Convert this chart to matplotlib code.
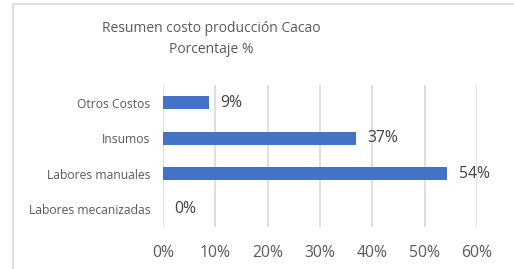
import matplotlib.pyplot as plt
import matplotlib.patches as mpatches
from matplotlib.ticker import PercentFormatter

# data, bottom to top
categorias = ['Labores mecanizadas', 'Labores manuales', 'Insumos', 'Otros Costos']
porcentajes = [0.0, 0.543, 0.369, 0.088]
ticks_x = [0, 0.1, 0.2, 0.3, 0.4, 0.5, 0.6]

W, H = 514, 269
fig = plt.figure(figsize=(W / 100, H / 100), dpi=100, facecolor='white')
plt.rcParams['font.family'] = ['Open Sans', 'DejaVu Sans']

# outer chart frame (runs off right/bottom edge)
fig.patches.append(mpatches.Rectangle((13 / W, -0.1), 1.2, (H - 4) / H + 0.1,
                                      transform=fig.transFigure, fill=False,
                                      edgecolor='#d9d9d9', linewidth=1.2))

ax = fig.add_axes([163 / W, (H - 227) / H, (477 - 163) / W, (227 - 85) / H])
ax.barh(categorias, porcentajes, height=0.36, color='#4472C4', zorder=3)

ax.set_xlim(0, 0.6)
ax.set_ylim(-0.5, 3.5)
ax.set_xticks(ticks_x)
ax.xaxis.set_major_formatter(PercentFormatter(1.0, decimals=0))
ax.grid(axis='x', color='#d9d9d9', linewidth=1.2, zorder=0)
for s in ax.spines.values():
    s.set_visible(False)
ax.tick_params(axis='both', length=0)
ax.tick_params(axis='x', labelsize=11.3, colors='#595959', pad=13)
ax.tick_params(axis='y', labelsize=8.7, colors='#595959', pad=9)

for i, v in enumerate(porcentajes):
    ax.text(v + 0.022, i, f'{v:.0%}', va='center', ha='left',
            fontsize=11.3, color='#404040')

fig.text(211 / W, 1 - 29 / H, 'Resumen costo producción Cacao', ha='center',
         va='center', fontsize=10, color='#595959')
fig.text(211 / W, 1 - 50 / H, 'Porcentaje %', ha='center',
         va='center', fontsize=10, color='#595959')

plt.savefig('out.png', dpi=100, facecolor='white')
